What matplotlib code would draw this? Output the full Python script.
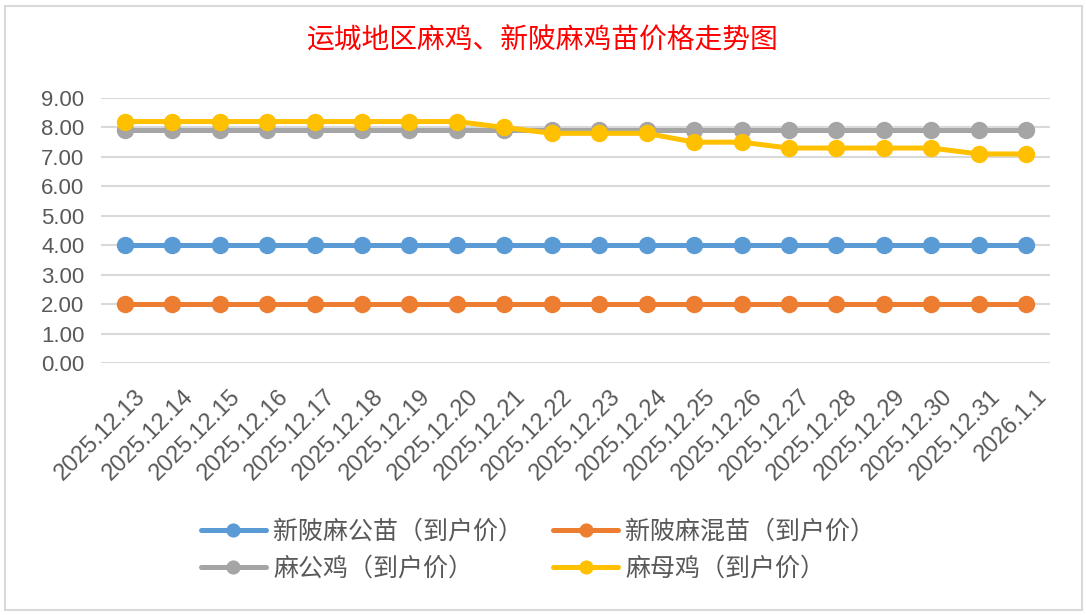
import matplotlib.pyplot as plt
import matplotlib.transforms as mtransforms
from matplotlib.patches import Rectangle

plt.rcParams['font.family'] = ['Liberation Sans', 'Noto Sans CJK SC', 'DejaVu Sans']

# data
dates = ['2025.12.13', '2025.12.14', '2025.12.15', '2025.12.16', '2025.12.17',
         '2025.12.18', '2025.12.19', '2025.12.20', '2025.12.21', '2025.12.22',
         '2025.12.23', '2025.12.24', '2025.12.25', '2025.12.26', '2025.12.27',
         '2025.12.28', '2025.12.29', '2025.12.30', '2025.12.31', '2026.1.1']
gongmiao = [4.0] * 20
hunmiao = [2.0] * 20
gongji = [7.9] * 20
muji = [8.2, 8.2, 8.2, 8.2, 8.2, 8.2, 8.2, 8.2, 8.0, 7.8,
        7.8, 7.8, 7.5, 7.5, 7.3, 7.3, 7.3, 7.3, 7.1, 7.1]

names = ['新陂麻公苗（到户价）', '新陂麻混苗（到户价）', '麻公鸡（到户价）', '麻母鸡（到户价）']
colors = ['#5B9BD5', '#ED7D31', '#A5A5A5', '#FFC000']
series = [gongmiao, hunmiao, gongji, muji]

fig = plt.figure(figsize=(10.86, 6.15), dpi=100)
fig.patches.append(Rectangle((5 / 1086, 5 / 615), 1077 / 1086, 604 / 615,
                             transform=fig.transFigure, fill=False,
                             edgecolor='#D9D9D9', linewidth=1.5))

ax = fig.add_axes([101 / 1086, 1 - 363 / 615, 949 / 1086, 265 / 615])
x = list(range(len(dates)))
lines = []
for vals, c, n in zip(series, colors, names):
    ln, = ax.plot(x, vals, color=c, linewidth=3.6, marker='o', markersize=11.5,
                  label=n, solid_capstyle='round', zorder=3)
    lines.append(ln)

ax.set_xlim(-0.5, len(dates) - 0.5)
ax.set_ylim(0, 9)
ax.set_yticks([i for i in range(10)])
ax.set_yticklabels(['%.2f' % i for i in range(10)])
ax.set_xticks(x)
ax.set_xticklabels(dates, rotation=45, ha='right', va='top', rotation_mode='anchor')
ax.tick_params(axis='both', length=0, colors='#595959')
ax.tick_params(axis='y', pad=12, labelsize=16)
ax.tick_params(axis='x', pad=16, labelsize=17)
# move the date labels a little to the right, as in the reference
shift = mtransforms.ScaledTranslation(0.10, 0, fig.dpi_scale_trans)
for lab in ax.get_xticklabels():
    lab.set_transform(lab.get_transform() + shift)
ax.grid(axis='y', color='#D9D9D9', linewidth=1.5, zorder=0)
ax.set_axisbelow(True)
for s in ax.spines.values():
    s.set_visible(False)

fig.text(0.5, 1 - 41 / 615, '运城地区麻鸡、新陂麻鸡苗价格走势图', color='red',
         fontsize=20, ha='center', va='center', family=['Noto Sans CJK SC', 'DejaVu Sans'])

# legend filled row by row: blue, orange / gray, yellow
order = [0, 2, 1, 3]
leg = fig.legend(handles=[lines[i] for i in order], loc='center',
                 bbox_to_anchor=(538 / 1086, 1 - 550 / 615), ncol=2,
                 frameon=False, handlelength=2.6, handletextpad=0.3,
                 columnspacing=1.2, labelspacing=0.45, labelcolor='#595959',
                 markerscale=0.8,
                 prop={'family': ['Noto Sans CJK SC', 'DejaVu Sans'], 'size': 18})

fig.savefig('out.png', dpi=100)
